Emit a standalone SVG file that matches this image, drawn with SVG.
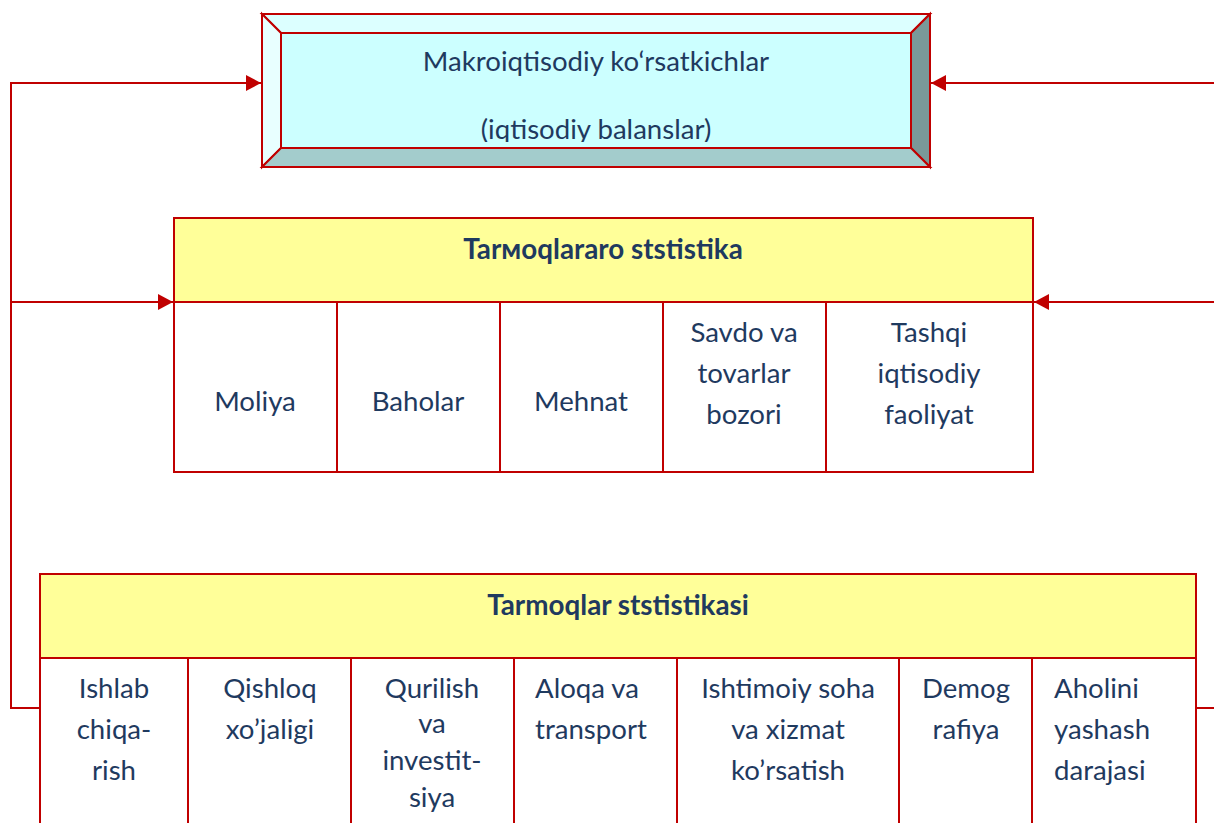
<svg xmlns="http://www.w3.org/2000/svg" width="1214" height="823" viewBox="0 0 1214 823">
<style>
.ln{stroke:#c00000;stroke-width:2;fill:none}
.bx{stroke:#c00000;stroke-width:2}
.t{font-family:Lato,"Open Sans","Liberation Sans",sans-serif;font-size:27.6px;fill:#1f3a5f;text-anchor:middle}
.tl{font-family:Lato,"Open Sans","Liberation Sans",sans-serif;font-size:27.6px;fill:#1f3a5f}
.h{font-family:Lato,"Open Sans","Liberation Sans",sans-serif;font-size:27.8px;font-weight:bold;fill:#1f3a5f;text-anchor:middle}
</style>
<defs>
<marker id="ah" markerWidth="16" markerHeight="16" refX="15" refY="8" orient="auto" markerUnits="userSpaceOnUse">
<path d="M0,0 L15,8 L0,16 z" fill="#c00000"/>
</marker>
<clipPath id="cp"><rect x="281" y="33" width="630" height="109"/></clipPath>
</defs>
<rect width="1214" height="823" fill="#fff"/>
<g id="connectors">
<path class="ln" d="M40,708 H11 V83 H261" marker-end="url(#ah)"/>
<path class="ln" d="M11,302 H173" marker-end="url(#ah)"/>
<path class="ln" d="M1214,83 H931" marker-end="url(#ah)"/>
<path class="ln" d="M1214,302 H1034" marker-end="url(#ah)"/>
<path class="ln" d="M1196,708 H1214"/>
</g>
<g id="macro">
<polygon points="262,14 930,14 911,33 281,33" fill="#dcffff" class="bx"/>
<polygon points="262,14 281,33 281,148 262,167" fill="#e8ffff" class="bx"/>
<polygon points="930,14 930,167 911,148 911,33" fill="#7a9999" class="bx"/>
<polygon points="262,167 281,148 911,148 930,167" fill="#a3cccc" class="bx"/>
<rect x="281" y="33" width="630" height="115" fill="#ccffff" class="bx"/>
<g clip-path="url(#cp)">
<text class="t" x="596" y="71">Makroiqtisodiy ko‘rsatkichlar</text>
<text class="t" x="596" y="139">(iqtisodiy balanslar)</text>
</g>
</g>
<g id="tarmoqlararo">
<rect x="174" y="218" width="859" height="84" fill="#ffff99" class="bx"/>
<text class="h" x="603" y="259">Tarмoqlararo ststistika</text>
<rect x="174" y="302" width="859" height="170" fill="#fff" class="bx"/>
<path class="ln" d="M337,302 V472 M500,302 V472 M663,302 V472 M826,302 V472"/>
<text class="t" x="255" y="411">Moliya</text>
<text class="t" x="418" y="411">Baholar</text>
<text class="t" x="581" y="411">Mehnat</text>
<text class="t" x="744" y="342">Savdo va</text>
<text class="t" x="744" y="383">tovarlar</text>
<text class="t" x="744" y="424">bozori</text>
<text class="t" x="929" y="342">Tashqi</text>
<text class="t" x="929" y="383">iqtisodiy</text>
<text class="t" x="929" y="424">faoliyat</text>
</g>
<g id="tarmoqlar">
<rect x="40" y="574" width="1156" height="84" fill="#ffff99" class="bx"/>
<text class="h" x="618" y="615">Tarmoqlar ststistikasi</text>
<rect x="40" y="658" width="1156" height="180" fill="#fff" class="bx"/>
<path class="ln" d="M188,658 V823 M351,658 V823 M514,658 V823 M677,658 V823 M899,658 V823 M1032,658 V823"/>
<text class="t" x="114" y="698">Ishlab</text>
<text class="t" x="114" y="739">chiqa-</text>
<text class="t" x="114" y="780">rish</text>
<text class="t" x="270" y="698">Qishloq</text>
<text class="t" x="270" y="739">xo’jaligi</text>
<text class="t" x="432" y="698">Qurilish</text>
<text class="t" x="432" y="733">va</text>
<text class="t" x="432" y="770">investit-</text>
<text class="t" x="432" y="807">siya</text>
<text class="tl" x="535" y="698">Aloqa va</text>
<text class="tl" x="535" y="739">transport</text>
<text class="t" x="788" y="698">Ishtimoiy soha</text>
<text class="t" x="788" y="739">va xizmat</text>
<text class="t" x="788" y="780">ko’rsatish</text>
<text class="t" x="966" y="698">Demog</text>
<text class="t" x="966" y="739">rafiya</text>
<text class="tl" x="1054" y="698">Aholini</text>
<text class="tl" x="1054" y="739">yashash</text>
<text class="tl" x="1054" y="780">darajasi</text>
</g>
</svg>
